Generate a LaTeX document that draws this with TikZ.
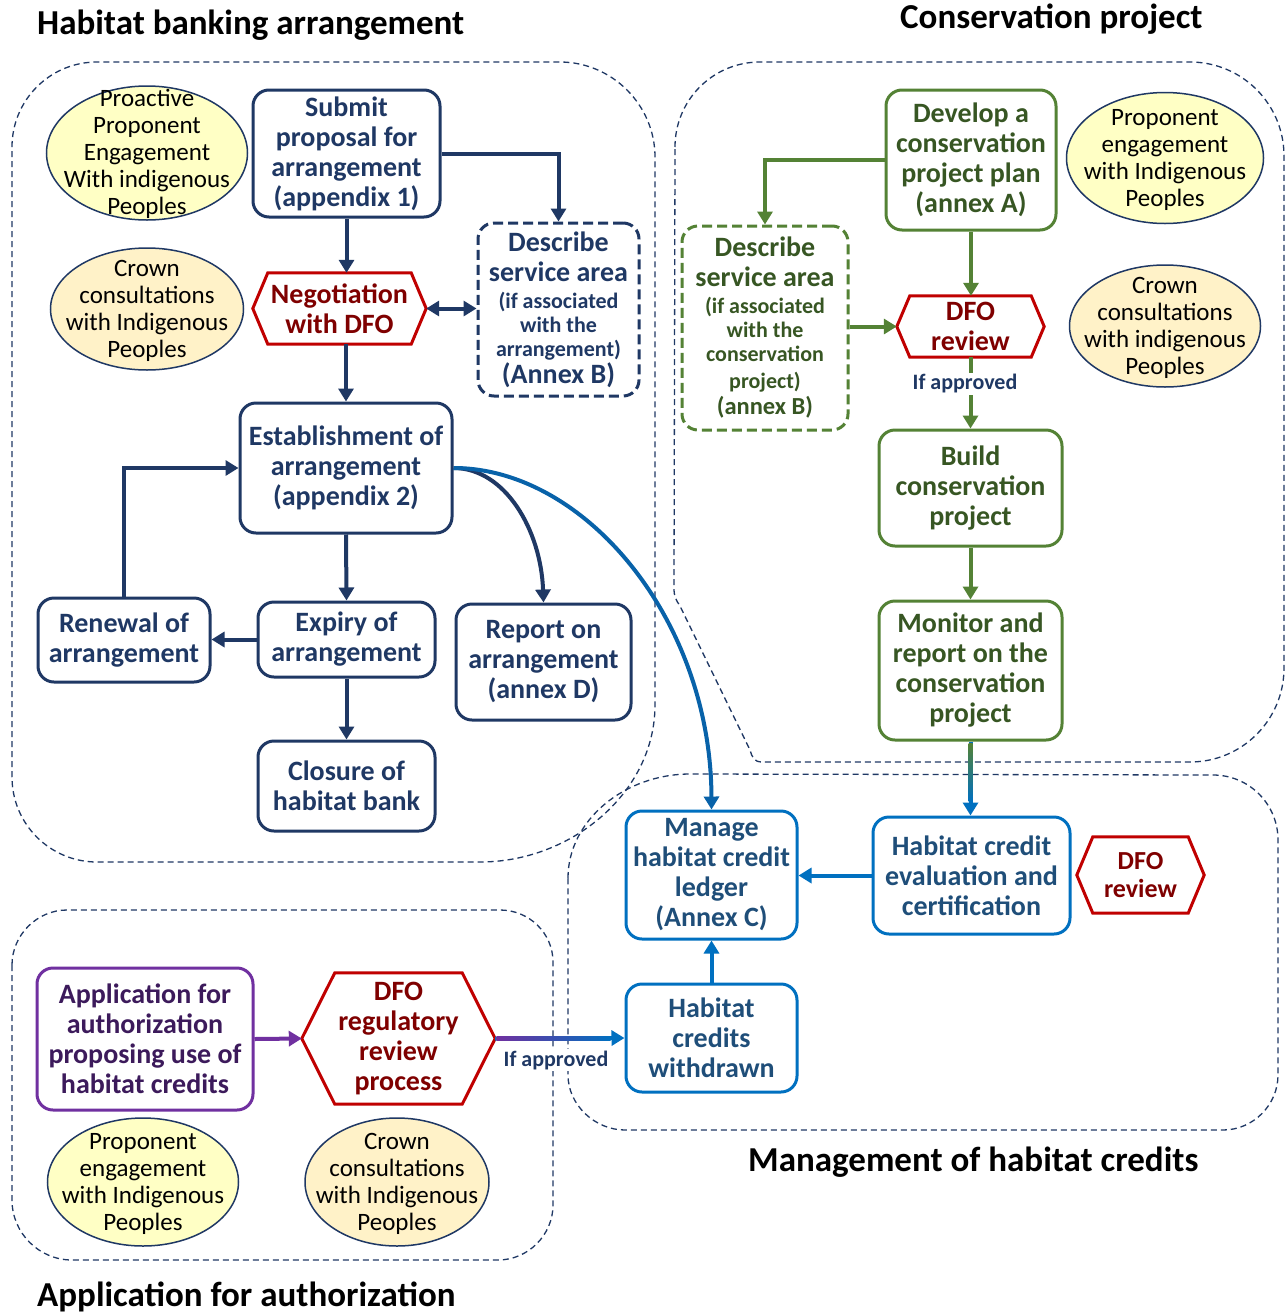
\documentclass[tikz,border=0pt]{standalone}
\usepackage{fontspec}
\setmainfont{Carlito}
\usetikzlibrary{arrows.meta,calc,shapes.geometric}
\definecolor{navy}{HTML}{1F3864}
\definecolor{dfored}{HTML}{C00000}
\definecolor{dfotext}{HTML}{7F0000}
\definecolor{grn}{HTML}{548235}
\definecolor{grntext}{HTML}{375623}
\definecolor{blu}{HTML}{0070C0}
\definecolor{blutext}{HTML}{1F4E79}
\definecolor{purp}{HTML}{7030A0}
\definecolor{purptext}{HTML}{3C1A5B}
\definecolor{ylw}{HTML}{FFFFC5}
\definecolor{org}{HTML}{FFF2C8}
\newcommand\bigtxt{\bfseries\fontsize{28}{30}\selectfont}
\newcommand\smtxt{\fontsize{22}{24}\selectfont}
\newcommand\midtxt{\fontsize{24.5}{27}\selectfont}
\newcommand\elltext[1]{\makebox[0pt]{\raisebox{-8.5pt}[0pt][0pt]{\begin{tabular}[c]{@{}c@{}}#1\end{tabular}}}}
\newcommand\hexframe[2]{\draw[line width=3pt, draw=dfored, line join=miter] (#1.west) -- ([xshift=#2]#1.north west) -- ([xshift=-#2]#1.north east) -- (#1.east) -- ([xshift=-#2]#1.south east) -- ([xshift=#2]#1.south west) -- cycle;}
\tikzset{
  region/.style={draw=navy, line width=1.3pt, dash pattern=on 6pt off 4pt},
  box/.style={rectangle, rounded corners=16pt, line width=3pt, align=center, inner sep=0pt, font=\bigtxt, fill=white},
  navybox/.style={box, draw=navy, text=navy},
  grnbox/.style={box, draw=grn, text=grntext},
  blubox/.style={box, draw=blu, text=blutext},
  purpbox/.style={box, draw=purp, text=purptext},
  dashbox/.style={dash pattern=on 10pt off 5pt},
  hexnode/.style={rectangle, draw=none, align=center, inner sep=0pt, font=\bigtxt, text=dfotext},
  ell/.style={ellipse, draw=navy, line width=1.5pt, inner sep=0pt, font=\fontsize{25}{27}\selectfont, text=black},
  title/.style={anchor=west, inner sep=0pt, font=\bfseries\fontsize{35}{40}\selectfont, text=black},
  tip/.style={-{Triangle[length=13pt,width=15pt]}},
  navyarr/.style={tip, draw=navy, line width=4pt},
  grnarr/.style={tip, draw=grn, line width=4pt},
  bluarr/.style={tip, draw=blu, line width=4pt},
  purparr/.style={tip, draw=purp, line width=4pt},
  approved/.style={fill=white, inner sep=2pt, text=navy, font=\bfseries\fontsize{22}{25}\selectfont}
}
\begin{document}
\begin{tikzpicture}[x=1pt,y=-1pt]
\useasboundingbox[fill=white] (0,0) rectangle (1286,1315);

% ---------- regions ----------
\draw[region] (12,147) .. controls (12,100) and (50,62) .. (97,62) -- (560,62)
  .. controls (612,62) and (655,105) .. (655,157) -- (655,705)
  .. controls (655,792) and (572,862) .. (480,862) -- (97,862)
  .. controls (50,862) and (12,824) .. (12,777) -- cycle;
\draw[region] (675,147) .. controls (675,100) and (713,62) .. (760,62) -- (1190,62)
  .. controls (1242,62) and (1284,104) .. (1284,156) -- (1284,668)
  .. controls (1284,720) and (1242,762) .. (1190,762) -- (762,762)
  .. controls (754,762) and (752,757) .. (750,750) -- (680,606)
  .. controls (676,600) and (674,597) .. (674,588) -- cycle;
\draw[region] (568,878) .. controls (568,820) and (625,774) .. (690,774) -- (1213,775)
  .. controls (1249,775) and (1278,804) .. (1278,840) -- (1278,1075)
  .. controls (1278,1105) and (1253,1130) .. (1223,1130) -- (625,1130)
  .. controls (595,1130) and (568,1105) .. (568,1075) -- cycle;
\draw[region] (12,965) .. controls (12,935) and (37,910) .. (67,910) -- (500,910)
  .. controls (529,910) and (553,933) .. (553,962) -- (553,1205)
  .. controls (553,1235) and (528,1260) .. (498,1260) -- (72,1260)
  .. controls (39,1260) and (12,1233) .. (12,1200) -- cycle;

% ---------- titles ----------
\node[title] (t1) at (37,25) {Habitat banking arrangement};
\node[title] (t2) at (900,19) {Conservation project};
\node[title] (t3) at (748,1162) {Management of habitat credits};
\node[title] (t4) at (37,1297) {Application for authorization};

% ---------- habitat banking ----------
\node[navybox, minimum width=187pt, minimum height=127pt] (submit) at (346.5,153.5) {Submit\\proposal for\\arrangement\\(appendix 1)};
\node[hexnode, minimum width=173pt, minimum height=71pt] (nego) at (339.5,308.5) {Negotiation\\with DFO};
\hexframe{nego}{15pt}
\node[navybox, dashbox, minimum width=161pt, minimum height=173pt] (desc1) at (558.5,309.5) {Describe\\service area\\[-3pt]{\smtxt (if associated}\\[-6pt]{\smtxt with the}\\[-6pt]{\smtxt arrangement)}\\[-3pt](Annex B)};
\node[navybox, minimum width=212pt, minimum height=130pt] (estab) at (346,468) {Establishment of\\arrangement\\(appendix 2)};
\node[navybox, minimum width=172pt, minimum height=84pt] (renew) at (124,640) {Renewal of\\arrangement};
\node[navybox, minimum width=177pt, minimum height=75pt] (expiry) at (346.5,639.5) {Expiry of\\arrangement};
\node[navybox, minimum width=175pt, minimum height=116pt] (report) at (543.5,662) {Report on\\arrangement\\(annex D)};
\node[navybox, minimum width=177pt, minimum height=90pt] (closure) at (346.5,786) {Closure of\\habitat bank};
\node[ell, fill=ylw, minimum width=201pt, minimum height=134pt] (ell1) at (147,153) {\elltext{Proactive\\Proponent\\Engagement\\With indigenous\\Peoples}};
\node[ell, fill=org, minimum width=193pt, minimum height=122pt] (ell2) at (147,309) {\elltext{Crown\\consultations\\with Indigenous\\Peoples}};

% ---------- conservation project ----------
\node[grnbox, minimum width=170pt, minimum height=140pt] (develop) at (971,160) {Develop a\\conservation\\project plan\\(annex A)};
\node[grnbox, dashbox, minimum width=166pt, minimum height=204pt] (desc2) at (765,328) {Describe\\service area\\[-3pt]{\smtxt (if associated}\\[-6pt]{\smtxt with the}\\[-6pt]{\smtxt conservation}\\[-3pt]{\smtxt project)}\\[-4pt]{\midtxt (annex B)}};
\node[hexnode, minimum width=147pt, minimum height=61pt] (review1) at (970.5,326.5) {DFO\\review};
\hexframe{review1}{13pt}
\node[grnbox, minimum width=183pt, minimum height=116pt] (build) at (970.5,488) {Build\\conservation\\project};
\node[grnbox, minimum width=183pt, minimum height=139pt] (monitor) at (970.5,670.5) {Monitor and\\report on the\\conservation\\project};
\node[ell, fill=ylw, minimum width=197pt, minimum height=131pt] (ell3) at (1165,158) {\elltext{Proponent\\engagement\\with Indigenous\\Peoples}};
\node[ell, fill=org, minimum width=191pt, minimum height=122pt] (ell4) at (1165,326) {\elltext{Crown\\consultations\\with indigenous\\Peoples}};

% ---------- management ----------
\node[blubox, minimum width=171pt, minimum height=128pt] (manage) at (711.5,875) {Manage\\habitat credit\\ledger\\(Annex C)};
\node[blubox, minimum width=197pt, minimum height=117pt] (evalc) at (971.5,875.5) {Habitat credit\\evaluation and\\certification};
\node[hexnode, font=\bfseries\fontsize{26}{28}\selectfont, minimum width=127pt, minimum height=76pt] (review2) at (1140.5,875) {DFO\\review};
\hexframe{review2}{16pt}
\node[blubox, minimum width=171pt, minimum height=108pt] (withdrawn) at (711.5,1038) {Habitat\\credits\\withdrawn};

% ---------- application ----------
\node[purpbox, minimum width=216pt, minimum height=142pt] (appl) at (145,1039) {Application for\\authorization\\proposing use of\\habitat credits};
\node[hexnode, minimum width=193pt, minimum height=131pt] (review3) at (398.5,1038.5) {DFO\\regulatory\\review\\process};
\hexframe{review3}{33pt}
\node[ell, fill=ylw, minimum width=191pt, minimum height=128pt] (ell5) at (143,1182) {\elltext{Proponent\\engagement\\with Indigenous\\Peoples}};
\node[ell, fill=org, minimum width=184pt, minimum height=128pt] (ell6) at (397,1182) {\elltext{Crown\\consultations\\with Indigenous\\Peoples}};

% ---------- connectors: habitat banking ----------
\draw[navyarr] (submit.south) -- (submit.south |- nego.north);
\draw[navyarr] (submit.east) -| (desc1.north);
\draw[navyarr, {Triangle[length=13pt,width=15pt]}-{Triangle[length=13pt,width=15pt]}] (nego.east) -- (nego.east -| desc1.west);
\draw[navyarr] (estab.north |- nego.south) -- (estab.north);
\draw[navyarr] (estab.south) -- (expiry.north);
\draw[navyarr] (expiry.west) -- (expiry.west -| renew.east);
\draw[navyarr] (renew.north) |- (estab.west);
\draw[navyarr] (expiry.south) -- (closure.north);
\draw[navyarr] (estab.east) .. controls (505,468) and (541,530) .. (report.north);
\draw[bluarr, draw=blu!75!navy] (estab.east) .. controls (585,468) and (711,620) .. (manage.north);

% ---------- connectors: conservation ----------
\draw[grnarr] (develop.west) -| (desc2.north);
\draw[grnarr] (develop.south) -- (develop.south |- review1.north);
\draw[grnarr] (desc2.east |- review1.west) -- (review1.west);
\draw[grnarr] (review1.south) -- (build.north);
\node[approved] (ifa1) at (965,384) {If approved};
\draw[grnarr] (build.south) -- (monitor.north);
\draw[bluarr] (monitor.south) -- (monitor.south |- evalc.north);
\shade[top color=grn, bottom color=blu] ($(monitor.south)+(-2,1.5)$) rectangle ($(monitor.south |- evalc.north)+(2,-14)$);

% ---------- connectors: management ----------
\draw[bluarr] (evalc.west) -- (evalc.west -| manage.east);
\draw[bluarr] (withdrawn.north) -- (manage.south);

% ---------- connectors: application ----------
\draw[purparr] (appl.east) -- (review3.west);
\draw[bluarr] (review3.east) -- (withdrawn.west);
\shade[left color=purp, right color=blu] ($(review3.east)+(1.5,-2)$) rectangle ($(withdrawn.west)+(-14,2)$);
\node[approved] (ifa2) at (556,1060) {If approved};
\end{tikzpicture}
\end{document}
